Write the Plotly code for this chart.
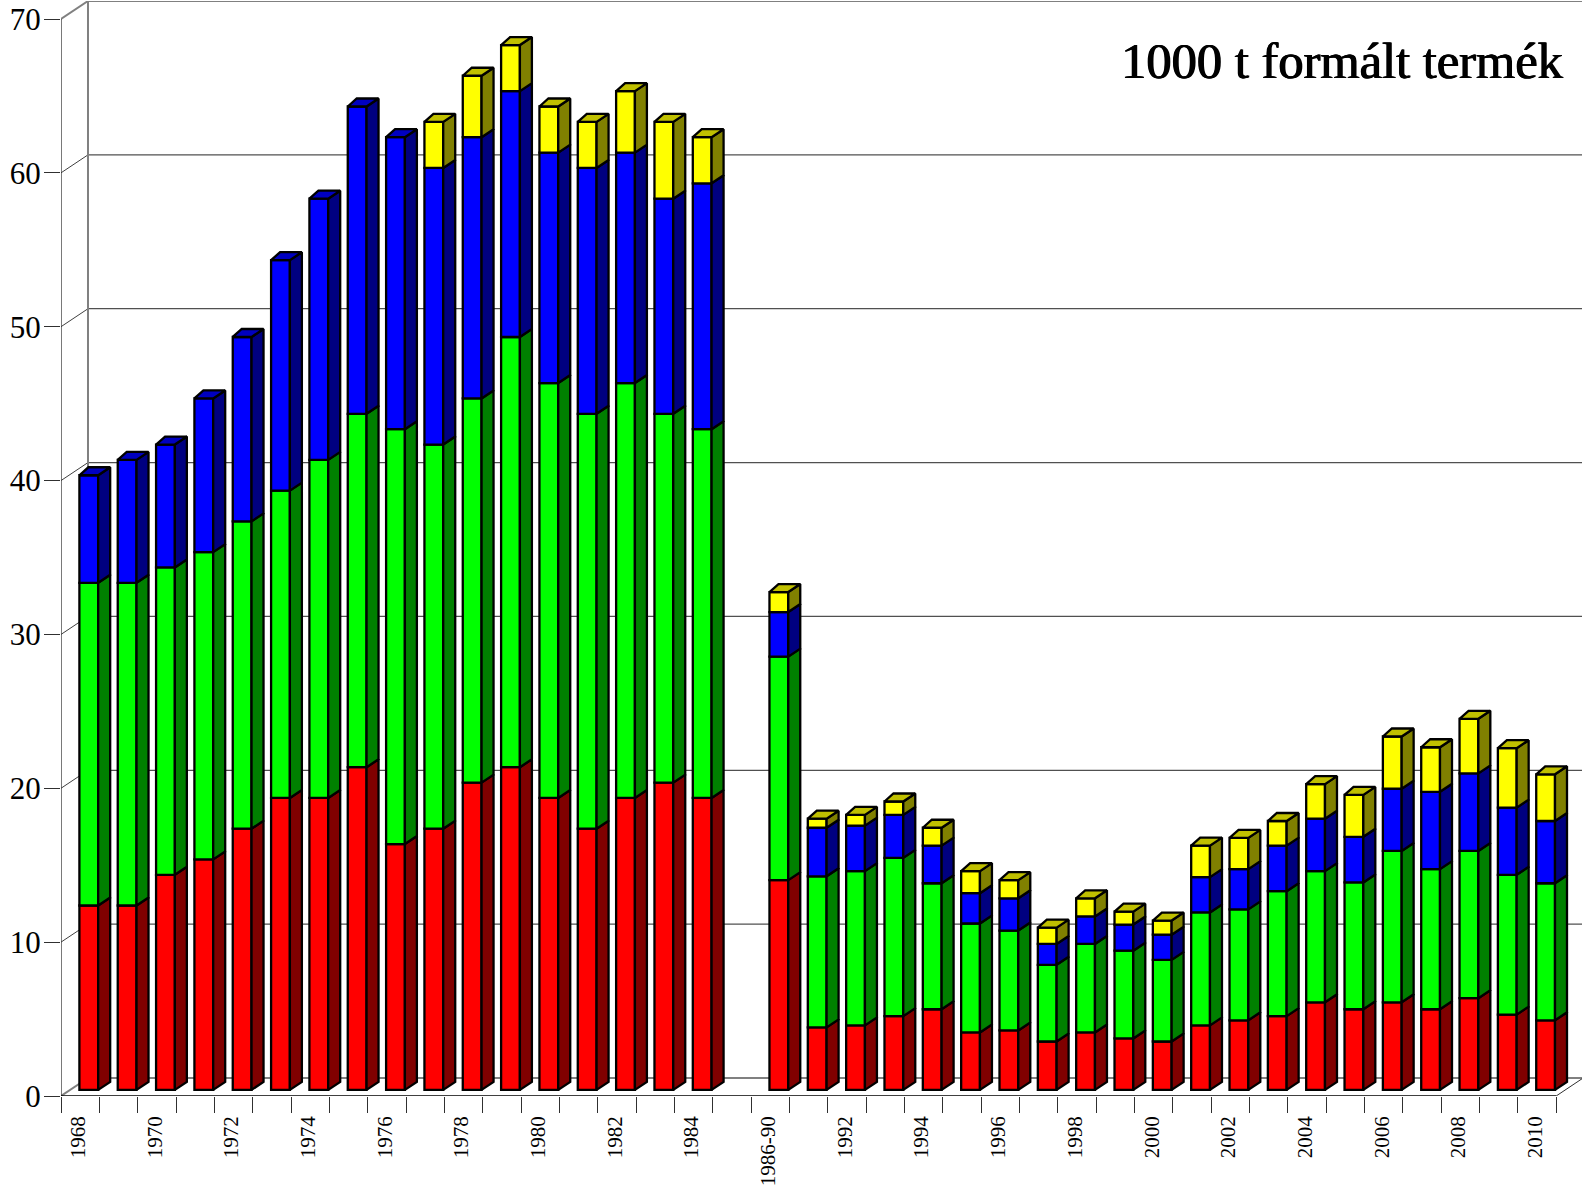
import plotly.graph_objects as go

categories = ["1968","1969","1970","1971","1972","1973","1974","1975","1976","1977","1978","1979","1980","1981","1982","1983","1984","",
              "1986-90","1991","1992","1993","1994","1995","1996","1997","1998","1999","2000","2001","2002","2003","2004","2005","2006","2007","2008","2009","2010"]
red = [12,12,14,15,17,19,19,21,16,17,20,21,19,17,19,20,19,None,
       13.65,4.07,4.2,4.8,5.25,3.74,3.87,3.15,3.74,3.35,3.15,4.2,4.53,4.8,5.7,5.25,5.7,5.25,5.97,4.9,4.53]
green = [21,21,20,20,20,20,22,23,27,25,25,28,27,27,27,24,24,None,
         14.55,9.83,10.04,10.3,8.2,7.09,6.5,4.99,5.76,5.71,5.31,7.35,7.22,8.13,8.54,8.25,9.85,9.12,9.58,9.1,8.92]
blue = [7,8,8,10,12,15,17,20,19,18,17,16,15,16,15,14,16,None,
        2.9,3.16,2.96,2.8,2.45,1.97,2.1,1.36,1.79,1.7,1.64,2.3,2.62,2.97,3.41,2.97,4.05,5.03,5.05,4.37,4.05]
yellow = [0,0,0,0,0,0,0,0,0,3,4,3,3,3,4,5,3,None,
          1.3,0.59,0.7,0.87,1.16,1.44,1.18,1.06,1.18,0.84,0.92,2.05,2.03,1.6,2.25,2.73,3.4,2.9,3.55,3.87,3.04]
y_ticks = [0,10,20,30,40,50,60,70]

# pixel geometry of the projection
W, H = 1583, 1189
L, R, T, B = 60.5, 1582.0, 1.0, 1096.3   # plot box
UX, UY = 38.35, 15.39                    # px per category / per value (front axes)
UY_BAR = 15.37                           # px per value in the plane of the bars
WALL_DX, WALL_DY = 27.0, 18.0            # back wall offset
BAR_X0, BAR_Y0 = 88.3, 1090.2            # centre of first bar, base of bars
BAR_W = 0.49                             # width of bar in categories
BAR_DX, BAR_DY = 12.0, 8.0               # bar depth
BAR_DX_LEFT = 9.0                        # depth offset of the left edge of the top face

wx, wy = WALL_DX / UX, WALL_DY / UY
dx, dy = BAR_DX / UX, BAR_DY / UY_BAR
dxl = BAR_DX_LEFT / UX
n = len(categories)
BLACK = "#000000"
GRAY = "#808080"
FONT = "Liberation Serif"
EDGE = 2.3

series = [
    ("red", red, "#FF0000", "#800000", "#C00000"),
    ("green", green, "#00FF00", "#008000", "#00C000"),
    ("blue", blue, "#0000FF", "#000080", "#0000C0"),
    ("yellow", yellow, "#FFFF00", "#808000", "#C0C000"),
]

fig = go.Figure()
cum = [0.0] * n
# last non-zero series per category gets the top face
tops = {}
for name, vals, *_ in series:
    for i, v in enumerate(vals):
        if v:
            tops[i] = name

for name, vals, front, side, top in series:
    xs = [i for i, v in enumerate(vals) if v]
    fig.add_trace(go.Bar(
        x=xs, y=[vals[i] for i in xs], base=[cum[i] for i in xs], width=BAR_W, name=name,
        marker=dict(color=front, line=dict(color=BLACK, width=EDGE)),
        xaxis="x2", yaxis="y2", showlegend=False, hoverinfo="skip"))
    sx, sy, tx, ty = [], [], [], []
    for i in xs:
        r = i + BAR_W / 2
        l = i - BAR_W / 2
        y0, y1 = cum[i], cum[i] + vals[i]
        sx += [r, r + dx, r + dx, r, r, None]
        sy += [y0, y0 + dy, y1 + dy, y1, y0, None]
        if tops[i] == name:
            tx += [l, l + dxl, r + dx, r, l, None]
            ty += [y1, y1 + dy, y1 + dy, y1, y1, None]
    for px_, py_, c in ((sx, sy, side), (tx, ty, top)):
        if px_:
            fig.add_trace(go.Scatter(
                x=px_, y=py_, mode="lines", fill="toself", fillcolor=c,
                line=dict(color=BLACK, width=EDGE), xaxis="x2", yaxis="y2",
                showlegend=False, hoverinfo="skip"))
    for i in xs:
        cum[i] += vals[i]

x_end = (R - L) / UX
y_end = (B - T) / UY
shapes = []


def seg(x0, y0, x1, y1, color, width):
    shapes.append(dict(type="line", xref="x", yref="y", x0=x0, y0=y0, x1=x1, y1=y1,
                       layer="below", line=dict(color=color, width=width)))


for v in y_ticks:
    edge = v in (0, 70)
    seg(0, v, wx, v + wy, GRAY if edge else "#404040", 2 if edge else 1)
    seg(wx, v + wy, n + wx, v + wy, GRAY if edge else "#505050", 2 if edge else 1.3)
seg(wx, wy, wx, 70 + wy, GRAY, 2)
seg(n + wx, wy, n + wx, 70 + wy, GRAY, 2)
seg(n, 0, n + wx, wy, "#303030", 1)
seg(0, 0, 0, 70, "#303030", 1.3)
seg(0, 0, n, 0, BLACK, 1.3)

fig.update_layout(
    width=W, height=H,
    margin=dict(l=L, r=W - R, t=T, b=H - B, pad=0, autoexpand=False),
    paper_bgcolor="white", plot_bgcolor="white",
    barmode="overlay", showlegend=False, shapes=shapes,
    font=dict(family=FONT, color=BLACK),
    xaxis=dict(
        range=[0, x_end], showgrid=False, zeroline=False, showline=False,
        tickmode="array", tickvals=[i + 0.45 for i in range(0, n, 2)],
        ticktext=categories[0::2], tickangle=-90, ticks="", ticklabelstandoff=15,
        tickfont=dict(family=FONT, size=21, color=BLACK),
        minor=dict(tickmode="linear", tick0=0, dtick=1, ticks="outside", ticklen=16, tickwidth=1, tickcolor="#303030"),
    ),
    yaxis=dict(
        range=[0, y_end], showgrid=False, zeroline=False, showline=False,
        tickmode="array", tickvals=y_ticks, ticks="outside", ticklen=16, tickwidth=1, tickcolor="#303030",
        ticklabelstandoff=-3,
        tickfont=dict(family=FONT, size=31, color=BLACK),
    ),
    xaxis2=dict(range=[(L - BAR_X0) / UX, (R - BAR_X0) / UX], overlaying="x", anchor="y2", visible=False),
    yaxis2=dict(range=[(BAR_Y0 - B) / UY_BAR, (BAR_Y0 - T) / UY_BAR], overlaying="y", anchor="x2", visible=False),
    annotations=[dict(text="1000 t formált termék", xref="paper", yref="paper",
                      x=(1566 - L) / (R - L), y=(B - 61) / (B - T), xanchor="right", yanchor="middle",
                      showarrow=False, font=dict(family=FONT, size=50.5, color=BLACK,
                                                 shadow="0.8px 0 0 #000000, -0.4px 0 0 #000000"))],
)

fig.write_html("out.html", config=dict(displayModeBar=False),
               post_script="document.body.style.margin='0';document.documentElement.style.overflow='hidden';")
